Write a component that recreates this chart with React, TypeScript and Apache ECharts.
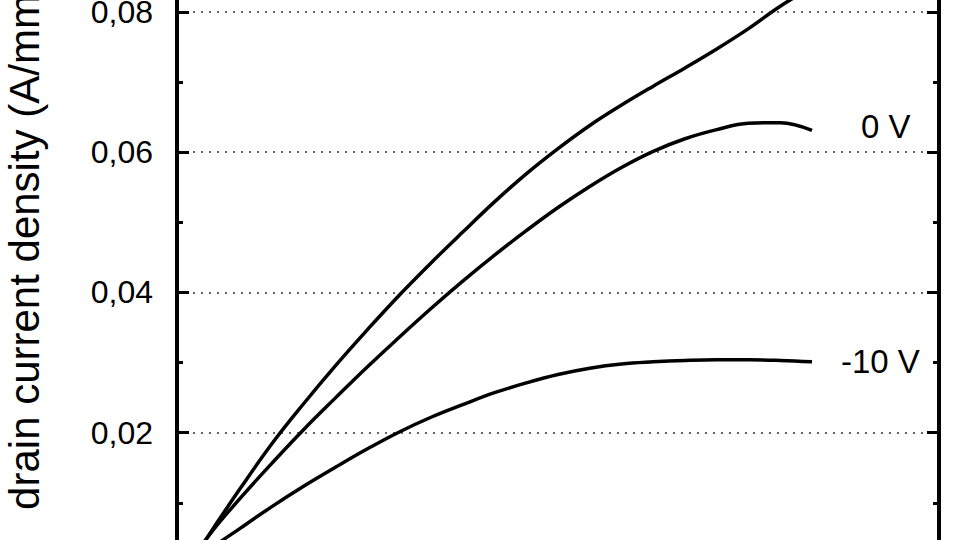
import * as echarts from 'echarts';
import { useEffect, useRef } from 'react';

// drain voltage (V) vs drain current density (A/mm)
const drainVoltage = [0.25, 1, 2, 3, 4, 5, 6, 7, 8, 9, 10, 11, 12, 13, 14, 15, 16, 17, 18, 19, 20];
const topCurve = [
  0, 0.0054, 0.0121, 0.0185, 0.0242, 0.0296, 0.0347, 0.0396, 0.0442, 0.0486, 0.0529,
  0.0569, 0.0605, 0.0638, 0.0667, 0.0694, 0.072, 0.0747, 0.0776, 0.0808, 0.0835,
];
const zeroVCurve = [
  0, 0.0053, 0.0107, 0.0157, 0.0205, 0.025, 0.0294, 0.0336, 0.0377, 0.0416, 0.0453,
  0.0488, 0.0521, 0.0551, 0.0578, 0.0601, 0.0619, 0.0632, 0.0641, 0.0642, 0.0631,
];
const minus10VCurve = [
  0, 0.0032, 0.0064, 0.0095, 0.0124, 0.0151, 0.0177, 0.0201, 0.0222, 0.024, 0.0257,
  0.0271, 0.0283, 0.0292, 0.0298, 0.0301, 0.0303, 0.0304, 0.0304, 0.0303, 0.0301,
];
const curves = [topCurve, zeroVCurve, minus10VCurve];
const curveLabels = ['', '0 V', '-10 V'];
const labelOffsets: [number, number][] = [[0, 0], [49, -4], [29, 0]];

const yTitle = 'drain current density (A/mm)';
const font = '"Liberation Sans", Arial, sans-serif';

export default function App() {
  const ref = useRef<HTMLDivElement | null>(null);

  useEffect(() => {
    if (!ref.current) return;
    const chart = echarts.init(ref.current, null, { renderer: 'svg' });
    const yCommon = {
      type: 'value' as const,
      min: 0,
      max: 0.1,
      interval: 0.02,
      axisLine: { show: true, lineStyle: { color: '#000', width: 4 } },
      axisTick: { show: true, inside: true, length: 12, lineStyle: { color: '#000', width: 3 } },
      minorTick: { show: true, splitNumber: 2, length: 6, lineStyle: { color: '#000', width: 3 } },
    };
    chart.setOption({
      animation: false,
      backgroundColor: '#fff',
      grid: { left: 177, right: 21, top: 31.5, bottom: 67 },
      xAxis: {
        type: 'value',
        min: 0,
        max: 24,
        interval: 4,
        axisLine: { lineStyle: { color: '#000', width: 4 } },
        axisTick: { inside: true, length: 12, lineStyle: { color: '#000', width: 3 } },
        axisLabel: { show: false },
        splitLine: { show: false },
      },
      yAxis: [
        {
          ...yCommon,
          position: 'left',
          axisLabel: {
            color: '#000',
            fontSize: 32,
            fontFamily: font,
            margin: 24,
            formatter: (v: number) => v.toFixed(2).replace('.', ','),
          },
          splitLine: { show: true, lineStyle: { color: '#333', width: 1.5, type: [2, 6] } },
        },
        {
          ...yCommon,
          position: 'right',
          axisLabel: { show: false },
          splitLine: { show: false },
        },
      ],
      graphic: [
        {
          type: 'text',
          x: 24,
          y: 405,
          rotation: Math.PI / 2,
          style: {
            text: yTitle,
            fill: '#000',
            font: `42px ${font}`,
            textAlign: 'center',
            textVerticalAlign: 'middle',
          },
        },
      ],
      series: curves.map((values, i) => ({
        type: 'line',
        data: values.map((v, k) => [drainVoltage[k], v]),
        showSymbol: false,
        smooth: 0.4,
        lineStyle: { color: '#000', width: 3.5 },
        endLabel: {
          show: curveLabels[i] !== '',
          formatter: curveLabels[i],
          color: '#000',
          fontSize: 33,
          fontFamily: font,
          distance: 0,
          offset: labelOffsets[i],
        },
      })),
    });
    return () => chart.dispose();
  }, []);

  return (
    <div style={{ position: 'fixed', left: 0, top: 0, width: 960, height: 540, overflow: 'hidden', background: '#fff' }}>
      <div ref={ref} style={{ position: 'absolute', left: 0, top: -160, width: 960, height: 800 }} />
    </div>
  );
}
